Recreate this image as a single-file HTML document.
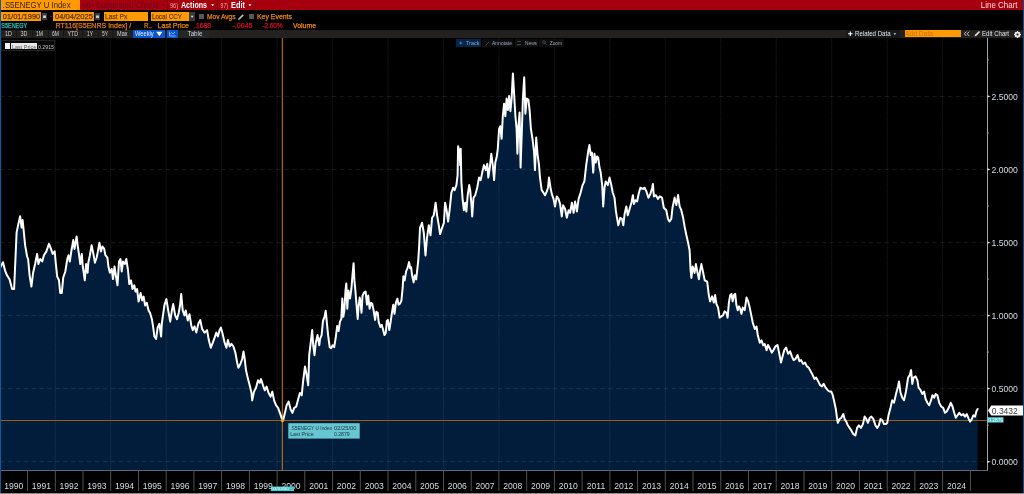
<!DOCTYPE html>
<html><head><meta charset="utf-8"><title>Line Chart</title>
<style>
html,body{margin:0;padding:0;background:#000;}
body{width:1024px;height:494px;overflow:hidden;position:relative;font-family:"Liberation Sans",sans-serif;}
#root{position:absolute;left:0;top:0;width:1024px;height:494px;background:#000;overflow:hidden;}
#chart{position:absolute;left:0;top:0;}
.abs{position:absolute;white-space:nowrap;line-height:1;}
.t{position:absolute;white-space:nowrap;line-height:1;transform-origin:0 0;}
#r1{left:0;top:0;width:1024px;height:10px;background:#a6000e;}
#tb{left:0;top:29.8px;width:1024px;height:8.1px;background:#22211f;}
.ob{background:#ff9a05;}
.sep{width:1px;height:10px;top:0;background:#7c000a;}
</style></head><body><div id="root">
<svg id="chart" width="1024" height="494" viewBox="0 0 1024 494">
<path d="M0.0,267.8 L3.0,262.2 L5.0,270.3 L7.0,275.3 L9.5,279.1 L12.1,289.1 L14.1,289.1 L15.6,255.2 L16.6,232.6 L18.1,225.1 L20.1,216.3 L21.6,227.6 L22.6,220.1 L23.9,232.6 L25.1,245.2 L27.1,256.5 L28.1,259.0 L29.6,275.3 L31.4,286.6 L33.1,272.8 L35.1,264.0 L37.1,253.9 L38.4,264.0 L40.2,259.0 L42.2,261.5 L43.9,255.2 L46.4,251.4 L49.0,243.9 L51.0,248.9 L52.7,253.9 L54.7,251.4 L55.7,262.7 L57.2,276.5 L59.0,280.3 L60.2,292.9 L61.8,292.9 L63.2,277.8 L65.3,271.5 L67.3,259.0 L68.5,255.2 L69.8,261.5 L71.5,250.2 L73.3,240.1 L74.5,248.9 L76.6,236.4 L77.8,246.4 L79.1,255.2 L80.3,264.0 L81.8,253.9 L82.8,266.5 L84.8,280.3 L86.1,264.0 L87.6,272.8 L88.3,262.7 L89.9,255.2 L91.6,245.2 L93.4,253.9 L94.9,262.7 L96.6,257.7 L97.9,251.4 L99.4,242.7 L100.9,251.4 L102.4,246.4 L104.2,248.9 L105.4,255.2 L107.4,257.7 L108.4,266.5 L109.9,272.8 L111.7,269.0 L113.0,279.1 L114.5,266.5 L116.0,276.5 L117.5,285.3 L119.0,261.5 L120.5,259.0 L121.7,271.5 L123.0,261.5 L124.8,264.0 L126.3,259.0 L128.0,270.3 L129.3,284.1 L131.0,280.3 L132.5,289.1 L134.3,285.3 L135.5,291.6 L137.1,289.1 L138.6,301.6 L140.6,292.9 L142.1,300.4 L143.6,296.6 L145.1,305.4 L146.8,302.9 L148.6,310.4 L150.1,312.9 L151.9,319.2 L153.1,326.7 L154.4,336.4 L156.1,338.9 L157.6,327.6 L159.4,323.8 L161.1,336.4 L161.9,323.0 L164.4,305.4 L166.4,299.1 L168.2,310.4 L170.2,321.7 L171.9,310.4 L173.2,304.1 L175.2,315.4 L177.0,319.2 L178.7,312.9 L180.2,304.1 L181.2,294.1 L182.7,310.4 L184.5,315.4 L185.7,310.4 L187.8,320.5 L189.5,314.2 L191.3,325.5 L192.8,330.1 L194.5,326.3 L196.3,332.6 L198.3,323.8 L200.3,320.1 L202.1,328.9 L204.6,332.6 L207.1,330.1 L208.8,340.1 L210.8,347.7 L212.8,342.6 L214.6,337.6 L216.3,332.6 L217.9,336.4 L219.6,330.1 L220.9,327.6 L222.9,335.1 L224.6,342.6 L226.4,347.7 L227.9,340.1 L229.7,346.4 L231.4,343.9 L233.4,346.4 L235.4,352.7 L237.2,362.7 L238.4,367.8 L240.4,364.0 L242.2,359.0 L243.5,351.4 L244.7,359.0 L246.0,370.3 L248.0,379.1 L249.7,385.3 L251.5,392.9 L252.2,400.4 L254.0,391.6 L256.0,387.8 L258.0,380.3 L259.8,382.8 L261.0,379.1 L263.0,385.3 L264.8,390.3 L266.6,386.6 L268.6,392.9 L270.6,396.6 L272.3,391.6 L274.1,400.4 L276.1,405.4 L278.1,407.9 L279.9,412.9 L281.6,417.9 L283.1,420.5 L284.9,412.9 L286.6,405.4 L288.6,401.6 L290.6,409.2 L292.4,412.9 L294.2,407.9 L296.2,406.7 L298.2,399.1 L299.9,392.9 L301.7,395.4 L303.2,380.3 L305.0,366.5 L306.7,375.3 L308.2,385.3 L309.2,355.2 L310.7,342.6 L312.2,330.1 L313.2,345.2 L314.5,355.2 L315.8,342.6 L317.5,335.1 L319.3,345.2 L320.0,339.1 L321.6,335.1 L323.0,320.9 L324.5,316.8 L325.7,310.8 L326.7,320.9 L328.1,335.1 L329.7,347.2 L331.1,348.2 L332.6,345.2 L334.2,347.2 L335.8,337.1 L337.2,325.9 L338.6,331.0 L339.9,321.9 L341.3,318.9 L342.3,298.6 L343.3,316.8 L344.3,310.8 L345.5,290.5 L346.3,283.4 L347.3,308.7 L348.4,290.5 L350.0,298.6 L351.4,288.5 L352.4,276.3 L353.6,263.2 L354.4,280.4 L355.4,290.5 L356.5,304.7 L357.7,318.9 L358.5,306.7 L359.7,297.6 L360.5,301.6 L361.5,312.8 L362.5,295.6 L364.1,292.5 L365.6,291.5 L367.0,304.7 L368.2,295.6 L369.6,308.7 L371.0,302.7 L372.2,303.7 L373.7,310.8 L375.1,319.9 L376.3,311.8 L377.7,312.8 L378.7,321.9 L380.4,327.0 L381.8,324.9 L383.2,330.0 L384.4,335.1 L385.8,333.0 L386.8,320.9 L387.9,319.9 L389.3,330.0 L390.5,322.9 L391.9,312.8 L393.3,304.7 L394.5,313.8 L395.9,302.7 L397.4,298.6 L398.6,304.7 L400.0,303.7 L401.4,300.6 L402.6,288.5 L403.4,276.3 L404.7,280.4 L406.1,271.3 L407.5,268.2 L409.1,262.1 L410.1,268.2 L411.1,267.2 L412.1,275.3 L413.6,282.4 L414.8,275.3 L416.2,279.4 L417.2,270.2 L418.2,261.1 L419.2,245.2 L420.0,227.8 L422.0,222.8 L423.8,232.8 L425.5,255.4 L427.0,237.8 L428.8,225.3 L430.5,235.3 L432.1,217.8 L433.8,215.3 L435.6,202.7 L437.1,215.3 L438.8,225.3 L440.1,234.1 L442.1,227.8 L443.9,222.8 L445.1,202.7 L446.6,210.2 L448.1,221.5 L449.6,210.2 L451.4,192.7 L453.1,187.7 L454.6,190.2 L456.4,185.1 L457.6,175.1 L458.1,146.3 L459.7,153.8 L460.2,165.1 L460.7,148.8 L461.4,182.6 L462.7,200.2 L463.9,210.2 L465.2,202.7 L466.4,211.5 L467.7,195.2 L469.2,185.1 L470.2,190.2 L471.5,205.2 L472.2,216.5 L473.5,197.7 L475.2,195.2 L477.2,187.7 L479.0,177.6 L480.7,180.1 L482.2,172.6 L484.0,165.1 L485.8,170.1 L487.3,163.8 L488.3,177.6 L489.8,167.6 L491.3,153.8 L492.8,165.1 L494.1,180.1 L495.3,162.6 L496.6,157.6 L497.8,148.8 L499.1,128.8 L500.3,126.2 L501.6,138.8 L502.8,116.2 L504.1,103.7 L505.3,116.2 L506.6,98.6 L507.9,109.9 L509.1,96.1 L510.4,111.2 L511.6,98.6 L512.9,73.5 L514.1,93.6 L515.4,116.2 L516.6,128.8 L517.4,153.8 L518.4,126.2 L519.6,112.4 L520.6,167.6 L521.9,128.8 L522.9,98.6 L524.2,77.3 L525.4,113.7 L526.7,98.6 L528.4,99.9 L529.7,111.2 L530.9,128.8 L532.5,138.8 L534.0,151.3 L535.0,170.1 L536.2,137.5 L537.5,153.8 L539.0,165.1 L540.0,177.6 L541.7,190.2 L543.5,192.7 L545.0,195.2 L546.8,191.4 L548.0,187.7 L549.0,177.6 L550.5,187.7 L551.8,193.9 L553.5,198.9 L555.0,206.5 L556.8,196.4 L558.5,198.9 L560.1,204.0 L561.8,216.5 L563.1,205.2 L565.1,209.0 L566.8,217.8 L568.6,210.2 L570.1,212.8 L571.9,202.7 L573.6,212.8 L575.1,201.5 L576.9,211.5 L578.6,198.9 L580.6,192.7 L582.6,185.1 L584.4,181.4 L586.2,165.1 L588.2,151.3 L589.4,145.1 L590.7,155.1 L591.9,152.6 L593.2,172.6 L594.5,153.8 L595.7,162.6 L597.0,156.4 L598.2,157.6 L599.5,167.6 L600.7,172.6 L602.2,185.1 L603.2,206.5 L604.5,187.7 L605.7,181.4 L607.8,185.1 L609.5,177.6 L611.3,185.1 L612.8,192.7 L614.5,197.7 L615.8,210.2 L617.0,217.8 L618.3,225.3 L620.3,217.8 L622.1,219.0 L623.3,225.3 L624.6,214.0 L626.3,206.5 L627.8,215.3 L629.6,209.0 L631.4,202.7 L632.9,195.2 L633.9,204.0 L635.4,200.2 L637.1,201.5 L638.9,192.7 L640.4,187.7 L642.9,188.9 L644.6,187.7 L646.4,191.4 L648.4,197.7 L650.4,193.9 L652.2,187.7 L652.9,183.9 L653.9,196.4 L655.9,195.2 L658.0,198.9 L659.7,196.4 L662.0,197.6 L663.8,207.7 L666.3,210.2 L668.0,218.9 L669.5,221.5 L671.3,218.9 L672.5,207.7 L674.6,197.6 L676.3,205.1 L678.1,195.1 L679.6,206.4 L681.3,210.2 L683.1,217.7 L684.6,226.5 L686.4,235.3 L688.1,242.8 L689.6,250.3 L690.6,270.4 L691.4,277.9 L692.6,266.6 L694.6,272.9 L695.9,264.1 L697.6,272.9 L698.9,279.2 L700.2,270.4 L701.4,264.1 L703.2,272.9 L704.7,280.4 L707.2,281.7 L708.8,295.1 L710.1,301.4 L712.1,296.4 L713.9,302.6 L715.1,295.1 L716.4,303.9 L718.1,307.6 L719.6,317.7 L721.4,316.4 L723.1,315.2 L724.6,311.4 L726.4,312.7 L727.6,317.7 L728.9,302.6 L730.2,295.1 L731.4,293.9 L732.7,301.4 L733.9,295.1 L735.2,293.9 L736.4,305.1 L737.7,310.2 L739.0,306.4 L740.2,308.9 L741.5,313.9 L742.7,307.6 L744.7,310.2 L746.5,297.6 L748.2,301.4 L749.7,307.6 L751.5,316.4 L752.8,322.7 L754.8,329.0 L756.5,326.5 L757.8,335.3 L759.8,342.8 L761.5,340.3 L763.3,345.3 L764.8,344.1 L766.6,350.3 L768.0,345.0 L770.0,348.8 L771.8,352.6 L773.5,350.0 L775.5,346.3 L777.5,345.0 L779.3,353.8 L781.0,362.6 L782.6,356.3 L784.3,350.0 L786.1,347.5 L788.1,353.8 L790.1,351.3 L791.9,356.3 L793.6,360.1 L795.6,358.8 L797.6,355.1 L799.4,361.3 L801.1,360.1 L803.1,363.9 L805.1,362.6 L806.9,366.4 L808.7,367.6 L810.7,371.4 L812.7,375.1 L814.4,378.9 L816.2,377.6 L818.2,381.4 L820.2,385.2 L822.0,386.4 L823.7,383.9 L825.7,387.7 L827.7,390.2 L829.5,391.5 L831.2,391.5 L832.8,395.2 L834.5,402.8 L835.8,409.0 L837.0,417.8 L837.8,422.8 L839.5,419.1 L841.3,417.8 L843.3,414.1 L844.6,419.1 L846.3,421.6 L847.8,425.3 L849.6,427.9 L851.3,430.4 L853.3,434.1 L855.4,435.4 L857.1,427.9 L858.9,425.3 L860.9,427.9 L862.9,424.1 L864.6,416.6 L866.4,419.1 L867.9,422.8 L869.7,417.8 L871.4,416.6 L873.4,419.1 L875.4,425.3 L877.2,427.9 L878.9,425.3 L880.5,419.1 L882.2,420.3 L884.0,424.1 L886.0,424.1 L887.2,422.8 L888.5,415.3 L890.5,407.8 L892.2,400.2 L894.0,402.8 L896.0,394.0 L898.0,386.4 L899.0,381.4 L900.5,392.7 L902.3,397.7 L904.0,400.2 L906.0,391.5 L908.1,377.6 L909.8,375.1 L911.1,370.1 L912.3,383.9 L913.6,377.6 L915.6,376.4 L917.4,380.2 L918.6,387.7 L920.6,390.2 L922.4,394.0 L924.1,391.5 L925.6,399.0 L927.4,402.8 L929.1,405.3 L931.1,400.2 L932.4,395.2 L934.2,397.7 L935.7,394.0 L937.4,395.2 L939.2,402.8 L941.2,406.5 L943.2,407.8 L945.0,412.8 L946.7,411.5 L948.7,407.8 L950.7,402.8 L952.5,406.5 L954.2,412.8 L955.8,417.8 L957.5,415.3 L959.3,412.8 L961.3,415.3 L963.3,414.1 L965.0,416.6 L966.8,414.1 L968.8,419.1 L970.1,421.6 L971.8,419.1 L973.3,415.3 L975.1,416.6 L976.3,411.5 L977.6,409.0 L977.6,470.5 L0,470.5 Z" fill="#011d3b"/>
<g stroke="#ffffff" stroke-width="1" stroke-dasharray="1.2,0.6" opacity="0.09"><line x1="55.3" y1="38" x2="55.3" y2="470.5"/><line x1="110.7" y1="38" x2="110.7" y2="470.5"/><line x1="166.2" y1="38" x2="166.2" y2="470.5"/><line x1="221.6" y1="38" x2="221.6" y2="470.5"/><line x1="277.1" y1="38" x2="277.1" y2="470.5"/><line x1="332.6" y1="38" x2="332.6" y2="470.5"/><line x1="388.0" y1="38" x2="388.0" y2="470.5"/><line x1="443.5" y1="38" x2="443.5" y2="470.5"/><line x1="498.9" y1="38" x2="498.9" y2="470.5"/><line x1="554.4" y1="38" x2="554.4" y2="470.5"/><line x1="609.9" y1="38" x2="609.9" y2="470.5"/><line x1="665.3" y1="38" x2="665.3" y2="470.5"/><line x1="720.8" y1="38" x2="720.8" y2="470.5"/><line x1="776.2" y1="38" x2="776.2" y2="470.5"/><line x1="831.7" y1="38" x2="831.7" y2="470.5"/><line x1="887.2" y1="38" x2="887.2" y2="470.5"/><line x1="942.6" y1="38" x2="942.6" y2="470.5"/></g>
<g stroke="#ffffff" stroke-width="1" stroke-dasharray="4.4,3.5" opacity="0.085"><line x1="0" y1="461.7" x2="987.5" y2="461.7"/><line x1="0" y1="388.6" x2="987.5" y2="388.6"/><line x1="0" y1="315.6" x2="987.5" y2="315.6"/><line x1="0" y1="242.6" x2="987.5" y2="242.6"/><line x1="0" y1="169.5" x2="987.5" y2="169.5"/><line x1="0" y1="96.4" x2="987.5" y2="96.4"/></g>
<line x1="0" y1="420.5" x2="987.5" y2="420.5" stroke="#c07010" stroke-width="0.8"/>
<line x1="282.3" y1="38" x2="282.3" y2="470.5" stroke="#d87a0c" stroke-width="1"/>
<path d="M0.0,267.8 L3.0,262.2 L5.0,270.3 L7.0,275.3 L9.5,279.1 L12.1,289.1 L14.1,289.1 L15.6,255.2 L16.6,232.6 L18.1,225.1 L20.1,216.3 L21.6,227.6 L22.6,220.1 L23.9,232.6 L25.1,245.2 L27.1,256.5 L28.1,259.0 L29.6,275.3 L31.4,286.6 L33.1,272.8 L35.1,264.0 L37.1,253.9 L38.4,264.0 L40.2,259.0 L42.2,261.5 L43.9,255.2 L46.4,251.4 L49.0,243.9 L51.0,248.9 L52.7,253.9 L54.7,251.4 L55.7,262.7 L57.2,276.5 L59.0,280.3 L60.2,292.9 L61.8,292.9 L63.2,277.8 L65.3,271.5 L67.3,259.0 L68.5,255.2 L69.8,261.5 L71.5,250.2 L73.3,240.1 L74.5,248.9 L76.6,236.4 L77.8,246.4 L79.1,255.2 L80.3,264.0 L81.8,253.9 L82.8,266.5 L84.8,280.3 L86.1,264.0 L87.6,272.8 L88.3,262.7 L89.9,255.2 L91.6,245.2 L93.4,253.9 L94.9,262.7 L96.6,257.7 L97.9,251.4 L99.4,242.7 L100.9,251.4 L102.4,246.4 L104.2,248.9 L105.4,255.2 L107.4,257.7 L108.4,266.5 L109.9,272.8 L111.7,269.0 L113.0,279.1 L114.5,266.5 L116.0,276.5 L117.5,285.3 L119.0,261.5 L120.5,259.0 L121.7,271.5 L123.0,261.5 L124.8,264.0 L126.3,259.0 L128.0,270.3 L129.3,284.1 L131.0,280.3 L132.5,289.1 L134.3,285.3 L135.5,291.6 L137.1,289.1 L138.6,301.6 L140.6,292.9 L142.1,300.4 L143.6,296.6 L145.1,305.4 L146.8,302.9 L148.6,310.4 L150.1,312.9 L151.9,319.2 L153.1,326.7 L154.4,336.4 L156.1,338.9 L157.6,327.6 L159.4,323.8 L161.1,336.4 L161.9,323.0 L164.4,305.4 L166.4,299.1 L168.2,310.4 L170.2,321.7 L171.9,310.4 L173.2,304.1 L175.2,315.4 L177.0,319.2 L178.7,312.9 L180.2,304.1 L181.2,294.1 L182.7,310.4 L184.5,315.4 L185.7,310.4 L187.8,320.5 L189.5,314.2 L191.3,325.5 L192.8,330.1 L194.5,326.3 L196.3,332.6 L198.3,323.8 L200.3,320.1 L202.1,328.9 L204.6,332.6 L207.1,330.1 L208.8,340.1 L210.8,347.7 L212.8,342.6 L214.6,337.6 L216.3,332.6 L217.9,336.4 L219.6,330.1 L220.9,327.6 L222.9,335.1 L224.6,342.6 L226.4,347.7 L227.9,340.1 L229.7,346.4 L231.4,343.9 L233.4,346.4 L235.4,352.7 L237.2,362.7 L238.4,367.8 L240.4,364.0 L242.2,359.0 L243.5,351.4 L244.7,359.0 L246.0,370.3 L248.0,379.1 L249.7,385.3 L251.5,392.9 L252.2,400.4 L254.0,391.6 L256.0,387.8 L258.0,380.3 L259.8,382.8 L261.0,379.1 L263.0,385.3 L264.8,390.3 L266.6,386.6 L268.6,392.9 L270.6,396.6 L272.3,391.6 L274.1,400.4 L276.1,405.4 L278.1,407.9 L279.9,412.9 L281.6,417.9 L283.1,420.5 L284.9,412.9 L286.6,405.4 L288.6,401.6 L290.6,409.2 L292.4,412.9 L294.2,407.9 L296.2,406.7 L298.2,399.1 L299.9,392.9 L301.7,395.4 L303.2,380.3 L305.0,366.5 L306.7,375.3 L308.2,385.3 L309.2,355.2 L310.7,342.6 L312.2,330.1 L313.2,345.2 L314.5,355.2 L315.8,342.6 L317.5,335.1 L319.3,345.2 L320.0,339.1 L321.6,335.1 L323.0,320.9 L324.5,316.8 L325.7,310.8 L326.7,320.9 L328.1,335.1 L329.7,347.2 L331.1,348.2 L332.6,345.2 L334.2,347.2 L335.8,337.1 L337.2,325.9 L338.6,331.0 L339.9,321.9 L341.3,318.9 L342.3,298.6 L343.3,316.8 L344.3,310.8 L345.5,290.5 L346.3,283.4 L347.3,308.7 L348.4,290.5 L350.0,298.6 L351.4,288.5 L352.4,276.3 L353.6,263.2 L354.4,280.4 L355.4,290.5 L356.5,304.7 L357.7,318.9 L358.5,306.7 L359.7,297.6 L360.5,301.6 L361.5,312.8 L362.5,295.6 L364.1,292.5 L365.6,291.5 L367.0,304.7 L368.2,295.6 L369.6,308.7 L371.0,302.7 L372.2,303.7 L373.7,310.8 L375.1,319.9 L376.3,311.8 L377.7,312.8 L378.7,321.9 L380.4,327.0 L381.8,324.9 L383.2,330.0 L384.4,335.1 L385.8,333.0 L386.8,320.9 L387.9,319.9 L389.3,330.0 L390.5,322.9 L391.9,312.8 L393.3,304.7 L394.5,313.8 L395.9,302.7 L397.4,298.6 L398.6,304.7 L400.0,303.7 L401.4,300.6 L402.6,288.5 L403.4,276.3 L404.7,280.4 L406.1,271.3 L407.5,268.2 L409.1,262.1 L410.1,268.2 L411.1,267.2 L412.1,275.3 L413.6,282.4 L414.8,275.3 L416.2,279.4 L417.2,270.2 L418.2,261.1 L419.2,245.2 L420.0,227.8 L422.0,222.8 L423.8,232.8 L425.5,255.4 L427.0,237.8 L428.8,225.3 L430.5,235.3 L432.1,217.8 L433.8,215.3 L435.6,202.7 L437.1,215.3 L438.8,225.3 L440.1,234.1 L442.1,227.8 L443.9,222.8 L445.1,202.7 L446.6,210.2 L448.1,221.5 L449.6,210.2 L451.4,192.7 L453.1,187.7 L454.6,190.2 L456.4,185.1 L457.6,175.1 L458.1,146.3 L459.7,153.8 L460.2,165.1 L460.7,148.8 L461.4,182.6 L462.7,200.2 L463.9,210.2 L465.2,202.7 L466.4,211.5 L467.7,195.2 L469.2,185.1 L470.2,190.2 L471.5,205.2 L472.2,216.5 L473.5,197.7 L475.2,195.2 L477.2,187.7 L479.0,177.6 L480.7,180.1 L482.2,172.6 L484.0,165.1 L485.8,170.1 L487.3,163.8 L488.3,177.6 L489.8,167.6 L491.3,153.8 L492.8,165.1 L494.1,180.1 L495.3,162.6 L496.6,157.6 L497.8,148.8 L499.1,128.8 L500.3,126.2 L501.6,138.8 L502.8,116.2 L504.1,103.7 L505.3,116.2 L506.6,98.6 L507.9,109.9 L509.1,96.1 L510.4,111.2 L511.6,98.6 L512.9,73.5 L514.1,93.6 L515.4,116.2 L516.6,128.8 L517.4,153.8 L518.4,126.2 L519.6,112.4 L520.6,167.6 L521.9,128.8 L522.9,98.6 L524.2,77.3 L525.4,113.7 L526.7,98.6 L528.4,99.9 L529.7,111.2 L530.9,128.8 L532.5,138.8 L534.0,151.3 L535.0,170.1 L536.2,137.5 L537.5,153.8 L539.0,165.1 L540.0,177.6 L541.7,190.2 L543.5,192.7 L545.0,195.2 L546.8,191.4 L548.0,187.7 L549.0,177.6 L550.5,187.7 L551.8,193.9 L553.5,198.9 L555.0,206.5 L556.8,196.4 L558.5,198.9 L560.1,204.0 L561.8,216.5 L563.1,205.2 L565.1,209.0 L566.8,217.8 L568.6,210.2 L570.1,212.8 L571.9,202.7 L573.6,212.8 L575.1,201.5 L576.9,211.5 L578.6,198.9 L580.6,192.7 L582.6,185.1 L584.4,181.4 L586.2,165.1 L588.2,151.3 L589.4,145.1 L590.7,155.1 L591.9,152.6 L593.2,172.6 L594.5,153.8 L595.7,162.6 L597.0,156.4 L598.2,157.6 L599.5,167.6 L600.7,172.6 L602.2,185.1 L603.2,206.5 L604.5,187.7 L605.7,181.4 L607.8,185.1 L609.5,177.6 L611.3,185.1 L612.8,192.7 L614.5,197.7 L615.8,210.2 L617.0,217.8 L618.3,225.3 L620.3,217.8 L622.1,219.0 L623.3,225.3 L624.6,214.0 L626.3,206.5 L627.8,215.3 L629.6,209.0 L631.4,202.7 L632.9,195.2 L633.9,204.0 L635.4,200.2 L637.1,201.5 L638.9,192.7 L640.4,187.7 L642.9,188.9 L644.6,187.7 L646.4,191.4 L648.4,197.7 L650.4,193.9 L652.2,187.7 L652.9,183.9 L653.9,196.4 L655.9,195.2 L658.0,198.9 L659.7,196.4 L662.0,197.6 L663.8,207.7 L666.3,210.2 L668.0,218.9 L669.5,221.5 L671.3,218.9 L672.5,207.7 L674.6,197.6 L676.3,205.1 L678.1,195.1 L679.6,206.4 L681.3,210.2 L683.1,217.7 L684.6,226.5 L686.4,235.3 L688.1,242.8 L689.6,250.3 L690.6,270.4 L691.4,277.9 L692.6,266.6 L694.6,272.9 L695.9,264.1 L697.6,272.9 L698.9,279.2 L700.2,270.4 L701.4,264.1 L703.2,272.9 L704.7,280.4 L707.2,281.7 L708.8,295.1 L710.1,301.4 L712.1,296.4 L713.9,302.6 L715.1,295.1 L716.4,303.9 L718.1,307.6 L719.6,317.7 L721.4,316.4 L723.1,315.2 L724.6,311.4 L726.4,312.7 L727.6,317.7 L728.9,302.6 L730.2,295.1 L731.4,293.9 L732.7,301.4 L733.9,295.1 L735.2,293.9 L736.4,305.1 L737.7,310.2 L739.0,306.4 L740.2,308.9 L741.5,313.9 L742.7,307.6 L744.7,310.2 L746.5,297.6 L748.2,301.4 L749.7,307.6 L751.5,316.4 L752.8,322.7 L754.8,329.0 L756.5,326.5 L757.8,335.3 L759.8,342.8 L761.5,340.3 L763.3,345.3 L764.8,344.1 L766.6,350.3 L768.0,345.0 L770.0,348.8 L771.8,352.6 L773.5,350.0 L775.5,346.3 L777.5,345.0 L779.3,353.8 L781.0,362.6 L782.6,356.3 L784.3,350.0 L786.1,347.5 L788.1,353.8 L790.1,351.3 L791.9,356.3 L793.6,360.1 L795.6,358.8 L797.6,355.1 L799.4,361.3 L801.1,360.1 L803.1,363.9 L805.1,362.6 L806.9,366.4 L808.7,367.6 L810.7,371.4 L812.7,375.1 L814.4,378.9 L816.2,377.6 L818.2,381.4 L820.2,385.2 L822.0,386.4 L823.7,383.9 L825.7,387.7 L827.7,390.2 L829.5,391.5 L831.2,391.5 L832.8,395.2 L834.5,402.8 L835.8,409.0 L837.0,417.8 L837.8,422.8 L839.5,419.1 L841.3,417.8 L843.3,414.1 L844.6,419.1 L846.3,421.6 L847.8,425.3 L849.6,427.9 L851.3,430.4 L853.3,434.1 L855.4,435.4 L857.1,427.9 L858.9,425.3 L860.9,427.9 L862.9,424.1 L864.6,416.6 L866.4,419.1 L867.9,422.8 L869.7,417.8 L871.4,416.6 L873.4,419.1 L875.4,425.3 L877.2,427.9 L878.9,425.3 L880.5,419.1 L882.2,420.3 L884.0,424.1 L886.0,424.1 L887.2,422.8 L888.5,415.3 L890.5,407.8 L892.2,400.2 L894.0,402.8 L896.0,394.0 L898.0,386.4 L899.0,381.4 L900.5,392.7 L902.3,397.7 L904.0,400.2 L906.0,391.5 L908.1,377.6 L909.8,375.1 L911.1,370.1 L912.3,383.9 L913.6,377.6 L915.6,376.4 L917.4,380.2 L918.6,387.7 L920.6,390.2 L922.4,394.0 L924.1,391.5 L925.6,399.0 L927.4,402.8 L929.1,405.3 L931.1,400.2 L932.4,395.2 L934.2,397.7 L935.7,394.0 L937.4,395.2 L939.2,402.8 L941.2,406.5 L943.2,407.8 L945.0,412.8 L946.7,411.5 L948.7,407.8 L950.7,402.8 L952.5,406.5 L954.2,412.8 L955.8,417.8 L957.5,415.3 L959.3,412.8 L961.3,415.3 L963.3,414.1 L965.0,416.6 L966.8,414.1 L968.8,419.1 L970.1,421.6 L971.8,419.1 L973.3,415.3 L975.1,416.6 L976.3,411.5 L977.6,409.0" fill="none" stroke="#ffffff" stroke-width="2.0" stroke-linejoin="round" stroke-linecap="round"/>
<path d="M280.3,420.5 l2,-2.2 l2,2.2 l-2,2.2z" fill="#ffa514"/>
<line x1="0" y1="470.5" x2="987.5" y2="470.5" stroke="#7a8088" stroke-width="0.8"/>
<line x1="987.5" y1="38" x2="987.5" y2="470.5" stroke="#b4b4b4" stroke-width="0.9"/>
<g stroke="#505050" stroke-width="1"><line x1="27.5" y1="470.5" x2="27.5" y2="491"/><line x1="55.3" y1="470.5" x2="55.3" y2="491"/><line x1="83.0" y1="470.5" x2="83.0" y2="491"/><line x1="110.7" y1="470.5" x2="110.7" y2="491"/><line x1="138.5" y1="470.5" x2="138.5" y2="491"/><line x1="166.2" y1="470.5" x2="166.2" y2="491"/><line x1="193.9" y1="470.5" x2="193.9" y2="491"/><line x1="221.6" y1="470.5" x2="221.6" y2="491"/><line x1="249.4" y1="470.5" x2="249.4" y2="491"/><line x1="277.1" y1="470.5" x2="277.1" y2="491"/><line x1="304.8" y1="470.5" x2="304.8" y2="491"/><line x1="332.6" y1="470.5" x2="332.6" y2="491"/><line x1="360.3" y1="470.5" x2="360.3" y2="491"/><line x1="388.0" y1="470.5" x2="388.0" y2="491"/><line x1="415.8" y1="470.5" x2="415.8" y2="491"/><line x1="443.5" y1="470.5" x2="443.5" y2="491"/><line x1="471.2" y1="470.5" x2="471.2" y2="491"/><line x1="498.9" y1="470.5" x2="498.9" y2="491"/><line x1="526.7" y1="470.5" x2="526.7" y2="491"/><line x1="554.4" y1="470.5" x2="554.4" y2="491"/><line x1="582.1" y1="470.5" x2="582.1" y2="491"/><line x1="609.9" y1="470.5" x2="609.9" y2="491"/><line x1="637.6" y1="470.5" x2="637.6" y2="491"/><line x1="665.3" y1="470.5" x2="665.3" y2="491"/><line x1="693.0" y1="470.5" x2="693.0" y2="491"/><line x1="720.8" y1="470.5" x2="720.8" y2="491"/><line x1="748.5" y1="470.5" x2="748.5" y2="491"/><line x1="776.2" y1="470.5" x2="776.2" y2="491"/><line x1="804.0" y1="470.5" x2="804.0" y2="491"/><line x1="831.7" y1="470.5" x2="831.7" y2="491"/><line x1="859.4" y1="470.5" x2="859.4" y2="491"/><line x1="887.2" y1="470.5" x2="887.2" y2="491"/><line x1="914.9" y1="470.5" x2="914.9" y2="491"/><line x1="942.6" y1="470.5" x2="942.6" y2="491"/><line x1="970.4" y1="470.5" x2="970.4" y2="491"/></g>
<line x1="987.5" y1="425.2" x2="989.0" y2="425.2" stroke="#aaa" stroke-width="0.8"/><line x1="987.5" y1="352.1" x2="989.0" y2="352.1" stroke="#aaa" stroke-width="0.8"/><line x1="987.5" y1="279.1" x2="989.0" y2="279.1" stroke="#aaa" stroke-width="0.8"/><line x1="987.5" y1="206.0" x2="989.0" y2="206.0" stroke="#aaa" stroke-width="0.8"/><line x1="987.5" y1="133.0" x2="989.0" y2="133.0" stroke="#aaa" stroke-width="0.8"/><line x1="987.5" y1="59.9" x2="989.0" y2="59.9" stroke="#aaa" stroke-width="0.8"/>
<g font-family="Liberation Sans, sans-serif" font-size="8.6" fill="#d4dce2"><text x="991.5" y="464.8">0.0000</text><path d="M987.5,460.5 l3,1.2 l-3,1.2z" fill="#e0e0e0"/><text x="991.5" y="391.8">0.5000</text><path d="M987.5,387.4 l3,1.2 l-3,1.2z" fill="#e0e0e0"/><text x="991.5" y="318.7">1.0000</text><path d="M987.5,314.4 l3,1.2 l-3,1.2z" fill="#e0e0e0"/><text x="991.5" y="245.7">1.5000</text><path d="M987.5,241.4 l3,1.2 l-3,1.2z" fill="#e0e0e0"/><text x="991.5" y="172.6">2.0000</text><path d="M987.5,168.3 l3,1.2 l-3,1.2z" fill="#e0e0e0"/><text x="991.5" y="99.5">2.5000</text><path d="M987.5,95.2 l3,1.2 l-3,1.2z" fill="#e0e0e0"/><text x="13.7" y="489.2" text-anchor="middle">1990</text><text x="41.4" y="489.2" text-anchor="middle">1991</text><text x="69.1" y="489.2" text-anchor="middle">1992</text><text x="96.9" y="489.2" text-anchor="middle">1993</text><text x="124.6" y="489.2" text-anchor="middle">1994</text><text x="152.3" y="489.2" text-anchor="middle">1995</text><text x="180.0" y="489.2" text-anchor="middle">1996</text><text x="207.8" y="489.2" text-anchor="middle">1997</text><text x="235.5" y="489.2" text-anchor="middle">1998</text><text x="263.2" y="489.2" text-anchor="middle">1999</text><text x="291.0" y="489.2" text-anchor="middle">2000</text><text x="318.7" y="489.2" text-anchor="middle">2001</text><text x="346.4" y="489.2" text-anchor="middle">2002</text><text x="374.2" y="489.2" text-anchor="middle">2003</text><text x="401.9" y="489.2" text-anchor="middle">2004</text><text x="429.6" y="489.2" text-anchor="middle">2005</text><text x="457.3" y="489.2" text-anchor="middle">2006</text><text x="485.1" y="489.2" text-anchor="middle">2007</text><text x="512.8" y="489.2" text-anchor="middle">2008</text><text x="540.5" y="489.2" text-anchor="middle">2009</text><text x="568.3" y="489.2" text-anchor="middle">2010</text><text x="596.0" y="489.2" text-anchor="middle">2011</text><text x="623.7" y="489.2" text-anchor="middle">2012</text><text x="651.5" y="489.2" text-anchor="middle">2013</text><text x="679.2" y="489.2" text-anchor="middle">2014</text><text x="706.9" y="489.2" text-anchor="middle">2015</text><text x="734.6" y="489.2" text-anchor="middle">2016</text><text x="762.4" y="489.2" text-anchor="middle">2017</text><text x="790.1" y="489.2" text-anchor="middle">2018</text><text x="817.8" y="489.2" text-anchor="middle">2019</text><text x="845.6" y="489.2" text-anchor="middle">2020</text><text x="873.3" y="489.2" text-anchor="middle">2021</text><text x="901.0" y="489.2" text-anchor="middle">2022</text><text x="928.8" y="489.2" text-anchor="middle">2023</text><text x="956.5" y="489.2" text-anchor="middle">2024</text></g>
<path d="M988,410.5 l3.2,-5.1 h32.8 v10.2 h-32.8z" fill="#ffffff"/>
<text x="991.8" y="413.8" font-family="Liberation Sans, sans-serif" font-size="9.2" fill="#3a3a3a" textLength="26" lengthAdjust="spacingAndGlyphs">0.3432</text>
<rect x="987.5" y="417.2" width="16" height="5.4" fill="#4cc4cc"/>
<text x="988.3" y="421.8" font-family="Liberation Sans, sans-serif" font-size="4.8" fill="#e8ffff">0.2879</text>
<rect x="288.3" y="423.2" width="71.4" height="15.4" fill="#68c6d2"/>
<g font-family="Liberation Sans, sans-serif" font-size="5.4" fill="#10343c" lengthAdjust="spacingAndGlyphs">
<text x="290.2" y="430.4" textLength="41.9" lengthAdjust="spacingAndGlyphs">.S5ENEGY U Index</text><text x="334" y="430.4" textLength="22.4" lengthAdjust="spacingAndGlyphs">02/25/00</text>
<text x="290.2" y="436.1" textLength="23.4" lengthAdjust="spacingAndGlyphs">Last Price</text><text x="334" y="436.1" textLength="15.6" lengthAdjust="spacingAndGlyphs">0.2879</text></g>
<rect x="270.8" y="486.5" width="23.2" height="4.6" fill="#4cc4cc"/>
<text x="271.6" y="490.4" font-family="Liberation Sans, sans-serif" font-size="4.4" fill="#e8ffff">03/03/00</text>
</svg>
<div class="abs" id="r1"></div>
<div class="abs ob" style="left:1px;top:0;width:78.5px;height:9.8px;"></div>
<div class="abs sep" style="left:167px;"></div>
<div class="abs sep" style="left:217px;"></div>
<div class="abs sep" style="left:254.5px;"></div>

<!-- row 2 -->
<div class="abs ob" style="left:1px;top:12.4px;width:40.2px;height:8.2px;"></div>
<div class="abs" style="left:42.2px;top:13.2px;width:5px;height:6.6px;background:#3c3c3c;"></div>
<div class="abs" style="left:43.4px;top:14.6px;width:2.6px;height:3.4px;background:#c8c8c8;border-top:1px solid #888;box-sizing:border-box;"></div>
<div class="abs" style="left:49.8px;top:16.2px;width:1.8px;height:1px;background:#4a2c00;"></div>
<div class="abs ob" style="left:53px;top:12.4px;width:41px;height:8.2px;"></div>
<div class="abs" style="left:94.8px;top:13.2px;width:5px;height:6.6px;background:#3c3c3c;"></div>
<div class="abs" style="left:96px;top:14.6px;width:2.6px;height:3.4px;background:#c8c8c8;border-top:1px solid #888;box-sizing:border-box;"></div>
<div class="abs ob" style="left:103.5px;top:12.4px;width:44.7px;height:8.2px;"></div>
<div class="abs ob" style="left:151px;top:12.4px;width:38px;height:8.2px;"></div>
<div class="abs" style="left:189.2px;top:12.4px;width:5.8px;height:8.2px;background:#3a3a3a;"></div>
<div class="abs" style="left:199.4px;top:14.2px;width:4.6px;height:4.6px;background:#585858;"></div>
<svg class="abs" style="left:237px;top:12.6px;" width="8" height="8" viewBox="0 0 8 8"><path d="M1,7 L1.6,5.2 L5.6,1.2 L6.8,2.4 L2.8,6.4 Z" fill="#b8b8b8"/></svg>
<div class="abs" style="left:249.2px;top:14.2px;width:4.4px;height:4.6px;background:#585858;"></div>

<!-- row 3 -->

<!-- row 4 toolbar -->
<div class="abs" id="tb"></div>
<div class="abs" style="left:16px;top:30px;width:1px;height:7.8px;background:#181716;"></div><div class="abs" style="left:31.7px;top:30px;width:1px;height:7.8px;background:#181716;"></div><div class="abs" style="left:47.5px;top:30px;width:1px;height:7.8px;background:#181716;"></div><div class="abs" style="left:63.3px;top:30px;width:1px;height:7.8px;background:#181716;"></div><div class="abs" style="left:82.3px;top:30px;width:1px;height:7.8px;background:#181716;"></div><div class="abs" style="left:97.5px;top:30px;width:1px;height:7.8px;background:#181716;"></div><div class="abs" style="left:112.4px;top:30px;width:1px;height:7.8px;background:#181716;"></div>
<div class="abs" style="left:132.5px;top:29.9px;width:32px;height:8px;background:#0a56d0;"></div>
<div class="abs" style="left:167.2px;top:29.9px;width:10.8px;height:8px;background:#0a56d0;"></div>
<svg class="abs" style="left:169px;top:31px;" width="7" height="6" viewBox="0 0 7 6"><path d="M0.5,0.5 V5 H6.5" fill="none" stroke="#9cc4ff" stroke-width="0.8"/><path d="M1.2,3 L2.6,1.8 L4,2.8 L6,1" fill="none" stroke="#9cc4ff" stroke-width="0.8"/></svg>
<div class="abs" style="left:180px;top:29.9px;width:29px;height:8px;background:#262626;"></div>

<div class="abs" style="left:845.6px;top:29.9px;width:54px;height:8px;background:#181818;"></div>
<div class="abs ob" style="left:904.5px;top:30.1px;width:56.5px;height:7.3px;"></div>
<svg class="abs" style="left:973.6px;top:30.4px;" width="7" height="7" viewBox="0 0 8 8"><path d="M0.6,7.4 L1.4,5.2 L5.6,1 L7,2.4 L2.8,6.6 Z" fill="#e0e0e0"/></svg>
<svg class="abs" style="left:1014.4px;top:30.6px;" width="7" height="7" viewBox="0 0 10 10"><circle cx="5" cy="5" r="3" fill="none" stroke="#e6e6e6" stroke-width="2.2"/><g stroke="#e6e6e6" stroke-width="1.6"><line x1="5" y1="0" x2="5" y2="10"/><line x1="0" y1="5" x2="10" y2="5"/><line x1="1.5" y1="1.5" x2="8.5" y2="8.5"/><line x1="8.5" y1="1.5" x2="1.5" y2="8.5"/></g><circle cx="5" cy="5" r="1.5" fill="#22211f"/></svg>

<!-- legend -->
<div class="abs" style="left:1px;top:39.8px;width:54.4px;height:11.2px;background:#080808;border:1px solid #222;box-sizing:border-box;"></div>
<div class="abs" style="left:5px;top:43.2px;width:5px;height:5.5px;background:#f4f4f4;"></div>
<div class="abs" style="left:11.2px;top:42.8px;width:26px;height:6.6px;background:#e8e8e8;"></div>

<!-- track buttons -->
<div class="abs" style="left:455.6px;top:39px;width:25.4px;height:7.8px;background:#05264a;"></div>
<div class="abs" style="left:482px;top:39px;width:31.4px;height:7.8px;background:#0e0e0e;"></div>
<div class="abs" style="left:514.6px;top:39px;width:23.6px;height:7.8px;background:#0e0e0e;"></div>
<div class="abs" style="left:539.2px;top:39px;width:24.8px;height:7.8px;background:#0e0e0e;"></div>
<svg class="abs" style="left:484.6px;top:40.6px;" width="5" height="5" viewBox="0 0 5 5"><path d="M0.5,4.5 L4,1" stroke="#56626e" stroke-width="0.7"/></svg>
<div class="abs" style="left:517px;top:40.8px;width:3.6px;height:4px;border-top:1px solid #3c444c;border-bottom:1px solid #3c444c;box-sizing:border-box;"></div>
<svg class="abs" style="left:541.6px;top:40.4px;" width="5" height="5" viewBox="0 0 5 5"><circle cx="2" cy="2" r="1.4" fill="none" stroke="#4c5864" stroke-width="0.7"/><path d="M3,3 L4.6,4.6" stroke="#4c5864" stroke-width="0.8"/></svg>

<svg class="abs" style="left:0;top:0;" width="1024" height="60" viewBox="0 0 1024 60" font-family="Liberation Sans, sans-serif">
<text x="2.75" y="7.6" font-size="8.6" fill="#3a2200" textLength="67.85" lengthAdjust="spacingAndGlyphs">.S5ENEGY U Index</text>
<text x="82.5" y="7.6" font-size="8.6" fill="#6e0024" textLength="76.30" lengthAdjust="spacingAndGlyphs">96) Suggested Charts</text>
<text x="170" y="7.5" font-size="7.0" fill="#f0a8a8" textLength="8.00" lengthAdjust="spacingAndGlyphs">96)</text>
<text x="181" y="7.6" font-size="8.6" fill="#ffffff" font-weight="bold" textLength="26.00" lengthAdjust="spacingAndGlyphs">Actions</text>
<text x="220.6" y="7.5" font-size="7.0" fill="#f0a8a8" textLength="7.40" lengthAdjust="spacingAndGlyphs">97)</text>
<text x="231" y="7.6" font-size="8.6" fill="#ffffff" font-weight="bold" textLength="14.00" lengthAdjust="spacingAndGlyphs">Edit</text>
<text x="980.75" y="7.6" font-size="8.6" fill="#fbdcdc" textLength="36.75" lengthAdjust="spacingAndGlyphs">Line Chart</text>
<text x="2.75" y="19.0" font-size="7.8" fill="#5a3400" stroke="#5a3400" stroke-width="0.25" textLength="37.50" lengthAdjust="spacingAndGlyphs">01/01/1990</text>
<text x="55" y="19.0" font-size="7.8" fill="#5a3400" stroke="#5a3400" stroke-width="0.25" textLength="38.00" lengthAdjust="spacingAndGlyphs">04/04/2025</text>
<text x="105" y="19.0" font-size="7.8" fill="#6a3e00" stroke="#6a3e00" stroke-width="0.25" textLength="22.50" lengthAdjust="spacingAndGlyphs">Last Px</text>
<text x="151.9" y="19.0" font-size="7.8" fill="#6a3e00" stroke="#6a3e00" stroke-width="0.25" textLength="30.00" lengthAdjust="spacingAndGlyphs">Local CCY</text>
<text x="207" y="19.0" font-size="7.8" fill="#f08a00" stroke="#f08a00" stroke-width="0.25" textLength="28.60" lengthAdjust="spacingAndGlyphs">Mov Avgs</text>
<text x="257" y="19.0" font-size="7.8" fill="#f08a00" stroke="#f08a00" stroke-width="0.25" textLength="35.00" lengthAdjust="spacingAndGlyphs">Key Events</text>
<text x="1.25" y="27.8" font-size="7.0" fill="#18c8c8" stroke="#18c8c8" stroke-width="0.25" textLength="26.00" lengthAdjust="spacingAndGlyphs">S5ENEGY</text>
<text x="55.6" y="27.8" font-size="7.0" fill="#e07c00" stroke="#e07c00" stroke-width="0.25" textLength="75.65" lengthAdjust="spacingAndGlyphs">RT116[S5ENRS Index] /</text>
<text x="144" y="27.8" font-size="7.0" fill="#e07c00" stroke="#e07c00" stroke-width="0.25" textLength="8.00" lengthAdjust="spacingAndGlyphs">R..</text>
<text x="157.5" y="27.8" font-size="7.0" fill="#e88400" stroke="#e88400" stroke-width="0.25" textLength="31.50" lengthAdjust="spacingAndGlyphs">Last Price</text>
<text x="194" y="27.8" font-size="7.0" fill="#d80830" stroke="#d80830" stroke-width="0.25" textLength="17.00" lengthAdjust="spacingAndGlyphs">.1688</text>
<text x="232.5" y="27.8" font-size="7.0" fill="#d80830" stroke="#d80830" stroke-width="0.25" textLength="20.00" lengthAdjust="spacingAndGlyphs">-.0045</text>
<text x="262.5" y="27.8" font-size="7.0" fill="#d80830" stroke="#d80830" stroke-width="0.25" textLength="20.00" lengthAdjust="spacingAndGlyphs">-2.60%</text>
<text x="293" y="27.8" font-size="7.0" fill="#f08a00" stroke="#f08a00" stroke-width="0.25" textLength="23.00" lengthAdjust="spacingAndGlyphs">Volume</text>
<text x="5" y="36.3" font-size="6.4" fill="#d0d6dc" textLength="7.00" lengthAdjust="spacingAndGlyphs">1D</text>
<text x="20.6" y="36.3" font-size="6.4" fill="#d0d6dc" textLength="6.90" lengthAdjust="spacingAndGlyphs">3D</text>
<text x="36" y="36.3" font-size="6.4" fill="#d0d6dc" textLength="7.00" lengthAdjust="spacingAndGlyphs">1M</text>
<text x="52" y="36.3" font-size="6.4" fill="#d0d6dc" textLength="7.00" lengthAdjust="spacingAndGlyphs">6M</text>
<text x="67.5" y="36.3" font-size="6.4" fill="#d0d6dc" textLength="10.50" lengthAdjust="spacingAndGlyphs">YTD</text>
<text x="87" y="36.3" font-size="6.4" fill="#d0d6dc" textLength="6.00" lengthAdjust="spacingAndGlyphs">1Y</text>
<text x="102" y="36.3" font-size="6.4" fill="#d0d6dc" textLength="6.00" lengthAdjust="spacingAndGlyphs">5Y</text>
<text x="117" y="36.3" font-size="6.4" fill="#d0d6dc" textLength="10.50" lengthAdjust="spacingAndGlyphs">Max</text>
<text x="135" y="36.3" font-size="6.4" fill="#e8f0ff" textLength="18.75" lengthAdjust="spacingAndGlyphs">Weekly</text>
<text x="187.5" y="36.3" font-size="6.4" fill="#d0d6dc" textLength="15.00" lengthAdjust="spacingAndGlyphs">Table</text>
<text x="855" y="36.3" font-size="6.7" fill="#dde4ea" textLength="35.60" lengthAdjust="spacingAndGlyphs">Related Data</text>
<text x="905" y="36.3" font-size="6.9" fill="#c87400" textLength="28.00" lengthAdjust="spacingAndGlyphs">Add Data</text>
<text x="982" y="36.3" font-size="6.7" fill="#dde4ea" textLength="27.00" lengthAdjust="spacingAndGlyphs">Edit Chart</text>
<text x="11.9" y="48.7" font-size="6.0" fill="#555555" textLength="24.35" lengthAdjust="spacingAndGlyphs">Last Price</text>
<text x="38" y="48.7" font-size="6.0" fill="#c8c8c8" textLength="16.00" lengthAdjust="spacingAndGlyphs">0.2915</text>
<text x="466" y="45.2" font-size="5.4" fill="#93a7ba" textLength="13.40" lengthAdjust="spacingAndGlyphs">Track</text>
<text x="492" y="45.2" font-size="5.4" fill="#93a7ba" textLength="20.00" lengthAdjust="spacingAndGlyphs">Annotate</text>
<text x="525" y="45.2" font-size="5.4" fill="#93a7ba" textLength="12.00" lengthAdjust="spacingAndGlyphs">News</text>
<text x="549.75" y="45.2" font-size="5.4" fill="#93a7ba" textLength="12.25" lengthAdjust="spacingAndGlyphs">Zoom</text>
<path d="M161.6,4.27 H164.6 L163.10,6.13Z" fill="#6e0024"/><path d="M211,4.21 H214.2 L212.60,6.19Z" fill="#ffffff"/><path d="M248.4,4.27 H251.4 L249.90,6.13Z" fill="#ffffff"/><path d="M190.6,15.87 H193.6 L192.10,17.73Z" fill="#e0e0e0"/><path d="M156.2,31.8 H162.4 L159.3,36.3Z" fill="#ffffff"/><path d="M893.4,33.33 H896.2 L894.80,35.07Z" fill="#cccccc"/><path d="M848,33.8 H852.6 M850.3,31.5 V36.1" stroke="#ffffff" stroke-width="1.1" fill="none"/><path d="M966.4,31.6 L964.4,33.8 L966.4,36 M969.2,31.6 L967.2,33.8 L969.2,36" stroke="#dddddd" stroke-width="0.9" fill="none"/><path d="M460.8,40.8 L461.3,42.4 L462.9,42.9 L461.3,43.4 L460.8,45 L460.3,43.4 L458.7,42.9 L460.3,42.4Z" fill="#5c8cb8"/></svg>
<!-- edges -->
<div class="abs" style="left:0;top:0;width:1px;height:494px;background:#0c5aa0;"></div>
<div class="abs" style="left:1023px;top:0;width:1px;height:494px;background:#0c4a84;"></div>
<div class="abs" style="left:0;top:493px;width:1024px;height:1px;background:#8a8a8a;"></div>
<style>
.tbt{top:30.6px;font-size:6.8px;color:#d0d6dc;letter-spacing:-0.2px;}

</style>
</div></body></html>
